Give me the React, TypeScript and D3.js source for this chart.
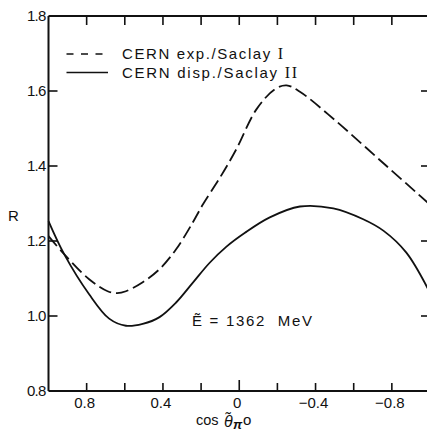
import React from "react";
import * as d3 from "d3";

const W = 427;
const H = 436;

// CERN exp./Saclay I (dashed)
const dashedCos = [1.0, 0.918, 0.787, 0.69, 0.64, 0.594, 0.506, 0.418, 0.331, 0.243, 0.19, 0.1, 0.015, -0.09, -0.187, -0.248, -0.318, -0.5, -0.75, -1.0];
const dashedR = [1.213, 1.165, 1.098, 1.066, 1.061, 1.066, 1.09, 1.125, 1.178, 1.25, 1.298, 1.37, 1.445, 1.551, 1.605, 1.615, 1.598, 1.523, 1.41, 1.297];

// CERN disp./Saclay II (solid)
const solidCos = [1.0, 0.918, 0.787, 0.682, 0.594, 0.506, 0.418, 0.331, 0.243, 0.155, 0.067, -0.03, -0.16, -0.318, -0.493, -0.65, -0.757, -0.876, -1.0];
const solidR = [1.253, 1.165, 1.058, 0.993, 0.974, 0.979, 0.997, 1.036, 1.089, 1.142, 1.185, 1.222, 1.263, 1.292, 1.287, 1.258, 1.227, 1.169, 1.062];

const xMinorTicks = [0.8, 0.6, 0.4, 0.2, 0, -0.2, -0.4, -0.6, -0.8];
const xTickLabels = ["0.8", "0.4", "0", "-0.4", "-0.8"];
const xTickValues = [0.8, 0.4, 0, -0.4, -0.8];
const yTickValues = [0.8, 1.0, 1.2, 1.4, 1.6, 1.8];
const yTickLabels = ["0.8", "1.0", "1.2", "1.4", "1.6", "1.8"];

const legendLabels = ["CERN exp./Saclay ", "CERN disp./Saclay "];
const legendNumerals = ["I", "II"];

export default function App() {
  const x = d3.scaleLinear().domain([1, -1]).range([48.5, 430]);
  const y = d3.scaleLinear().domain([0.8, 1.8]).range([391, 16]);
  const line = d3
    .line<[number, number]>()
    .x((d) => x(d[0]))
    .y((d) => y(d[1]))
    .curve(d3.curveCatmullRom.alpha(0.5));
  const dashedData: [number, number][] = dashedCos.map((c, i) => [c, dashedR[i]]);
  const solidData: [number, number][] = solidCos.map((c, i) => [c, solidR[i]]);
  const font = "'Liberation Sans', Arial, sans-serif";
  const x0 = x(1);
  const x1 = x(-1);
  const yb = y(0.8);
  const yt = y(1.8);

  return (
    <svg
      width={W}
      height={H}
      style={{ position: "absolute", left: 0, top: 0, background: "#fff" }}
      fontFamily={font}
    >
      <rect x={0} y={0} width={W} height={H} fill="#fff" />
      {/* frame */}
      <g stroke="#111" strokeWidth={2} fill="none">
        <line x1={x0} y1={yt} x2={x1 + 2} y2={yt} />
        <line x1={x0} y1={yb} x2={x1 + 2} y2={yb} />
        <line x1={x0} y1={yt} x2={x0} y2={yb} />
        <line x1={x1} y1={yt} x2={x1} y2={yb} />
      </g>
      {/* ticks */}
      <g stroke="#111" strokeWidth={1.6}>
        {xMinorTicks.map((t) => (
          <g key={"xt" + t}>
            <line x1={x(t)} x2={x(t)} y1={yb} y2={yb - (t === 0 ? 11 : 8)} />
            <line x1={x(t)} x2={x(t)} y1={yt} y2={yt + 9} />
          </g>
        ))}
        {yTickValues.slice(1, -1).map((t) => (
          <g key={"yt" + t}>
            <line x1={x0} x2={x0 + 9} y1={y(t)} y2={y(t)} />
            <line x1={x1} x2={x1 - 9} y1={y(t)} y2={y(t)} />
          </g>
        ))}
      </g>
      {/* tick labels */}
      <g fontSize={15} fill="#111">
        {xTickValues.map((t, i) => (
          <text key={"xl" + t} x={x(t) - 2} y={408} textAnchor="middle">
            {xTickLabels[i].replace("-", "\u2212")}
          </text>
        ))}
        {yTickValues.map((t, i) => (
          <text key={"yl" + t} x={x0 - 3} y={y(t) + 5} textAnchor="end" letterSpacing={-0.8}>
            {yTickLabels[i]}
          </text>
        ))}
      </g>
      {/* axis titles */}
      <text x={8} y={221} fontSize={15} fill="#111">R</text>
      <g fill="#111">
        <text x={196} y={425} fontSize={14.5}>cos</text>
        <text x={224} y={427} fontSize={16} fontStyle="italic">{"\u03B8\u0303"}</text>
        <text x={233} y={429} fontSize={13} fontStyle="italic" fontWeight="bold">{"\u03C0"}</text>
        <text x={243} y={425} fontSize={15}>o</text>
      </g>
      {/* curves */}
      <g fill="none" stroke="#111" strokeWidth={1.8}>
        <path d={line(dashedData) || ""} strokeDasharray="13 5" />
        <path d={line(solidData) || ""} />
      </g>
      {/* legend */}
      <g fill="#111" fontSize={15}>
        <line x1={66.5} x2={108} y1={54} y2={54} stroke="#111" strokeWidth={1.6} strokeDasharray="7 7.5" />
        <line x1={66.5} x2={108} y1={72.5} y2={72.5} stroke="#111" strokeWidth={1.6} />
        <text x={122} y={59} textLength={161} lengthAdjust="spacing">
          {legendLabels[0]}
          <tspan fontFamily="'Liberation Serif', serif" fontSize={16}>{legendNumerals[0]}</tspan>
        </text>
        <text x={122} y={78} textLength={175} lengthAdjust="spacing">
          {legendLabels[1]}
          <tspan fontFamily="'Liberation Serif', serif" fontSize={16}>{legendNumerals[1]}</tspan>
        </text>
      </g>
      {/* annotation */}
      <text x={192} y={326} fontSize={15} fill="#111" textLength={120} lengthAdjust="spacing" style={{ whiteSpace: "pre" }}>
        {"\u1EBC = 1362  MeV"}
      </text>
    </svg>
  );
}
